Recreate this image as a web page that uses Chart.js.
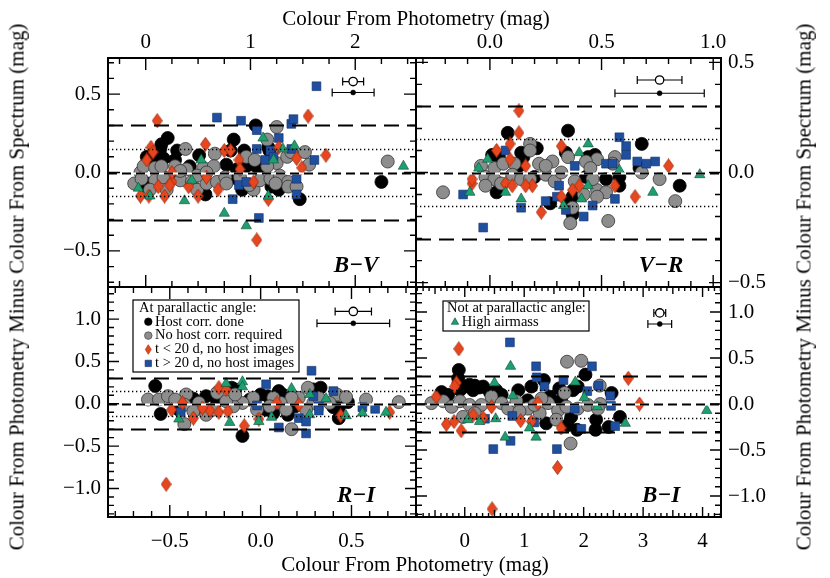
<!DOCTYPE html>
<html>
<head>
<meta charset="utf-8">
<script src="https://cdn.jsdelivr.net/npm/chart.js@4.4.1/dist/chart.umd.min.js"></script>
<style>
  body { margin: 0; background: #fff; }
  #wrap { position: relative; width: 830px; height: 578px; font-family: "Liberation Serif", "Times New Roman", serif; }
  #wrap canvas { position: absolute; left: 0; top: 0; }
  .ttl { position: absolute; font-size: 21px; line-height: 1; white-space: nowrap; color: #000; }
</style>
</head>
<body>
<div id="wrap">
  <canvas id="bv" width="830" height="578"></canvas>
  <canvas id="vr" width="830" height="578"></canvas>
  <canvas id="ri" width="830" height="578"></canvas>
  <canvas id="bi" width="830" height="578"></canvas>
  <div class="ttl" style="left:416px;top:18px;transform:translate(-50%,-50%)">Colour From Photometry (mag)</div>
  <div class="ttl" style="left:415px;top:564px;transform:translate(-50%,-50%)">Colour From Photometry (mag)</div>
  <div class="ttl" style="left:17px;top:287px;transform:translate(-50%,-50%) rotate(-90deg)">Colour From Photometry Minus Colour From Spectrum (mag)</div>
  <div class="ttl" style="left:804px;top:287px;transform:translate(-50%,-50%) rotate(-90deg)">Colour From Photometry Minus Colour From Spectrum (mag)</div>
</div>
<script>
// ---- B-V panel ----
const bvHost = [[0.21,0.22],[0.15,0.18],[0.14,0.15],[0.30,0.14],[0.51,0.11],[0.84,0.21],[0.81,0.14],[0.94,0.14],[1.05,0.30],[1.17,0.16],[1.18,0.14],[2.25,-0.06],[0.57,-0.14],[1.47,-0.17],[1.27,-0.07],[1.27,-0.11],[0.01,0.10],[0.07,0.09],[0.17,0.09],[0.28,0.08],[0.01,-0.07],[0.01,-0.09],[0.26,-0.03],[0.87,0.02],[0.87,-0.04],[1.03,0.05],[1.12,0.04],[0.77,0.05],[0.42,0.04],[0.92,-0.11],[1.20,-0.09],[1.08,0.02],[0.96,0.04]];
const bvNoHost = [[2.31,0.07],[1.16,0.21],[1.25,0.29],[0.38,0.15],[-0.11,-0.07],[-0.05,0.00],[-0.02,0.04],[0.09,0.03],[0.09,-0.05],[0.17,-0.03],[0.20,-0.11],[0.28,0.04],[0.33,-0.05],[0.39,0.02],[0.44,-0.06],[0.49,-0.11],[0.55,0.03],[0.58,-0.07],[0.66,0.12],[0.65,0.04],[0.68,-0.06],[0.76,-0.03],[0.77,-0.07],[0.96,0.10],[1.03,-0.11],[1.04,0.08],[1.09,-0.05],[1.19,-0.04],[1.25,0.06],[1.28,-0.02],[1.35,0.10],[1.36,-0.06],[1.36,-0.09],[1.44,-0.09],[1.52,0.13],[1.56,0.05],[1.39,0.13],[1.24,-0.07],[0.04,-0.11],[-0.04,-0.04],[0.15,0.04],[0.33,0.01],[0.49,-0.02],[0.58,0.00],[1.16,0.04],[0.99,-0.08],[0.90,-0.03]];
const bvEarly = [[0.11,0.33],[0.57,0.18],[0.05,0.16],[0.07,0.13],[0.75,0.14],[0.81,0.14],[0.89,0.08],[1.44,0.09],[1.72,0.11],[1.55,0.36],[1.27,0.16],[-0.05,-0.15],[0.03,-0.15],[0.18,-0.15],[1.17,-0.17],[1.06,-0.43],[0.25,-0.06],[0.23,-0.08],[0.12,-0.09],[1.03,-0.06],[0.50,-0.15],[0.58,-0.03],[0.41,-0.09],[1.49,0.03],[0.01,0.08],[0.25,0.00],[0.90,0.02],[0.69,-0.11]];
const bvLate = [[1.63,0.55],[0.68,0.35],[0.91,0.33],[1.06,0.27],[1.39,0.31],[1.41,0.34],[1.27,0.22],[1.61,0.08],[1.44,-0.04],[1.44,-0.14],[0.83,-0.17],[1.08,-0.29],[1.06,0.15],[1.19,0.14],[0.89,-0.08],[0.96,-0.06],[1.14,0.08],[1.39,0.15],[1.22,0.10]];
const bvAirmass = [[2.46,0.04],[0.75,-0.26],[0.37,-0.18],[1.42,0.17],[1.31,0.15],[1.12,0.22],[0.96,-0.34],[-0.07,-0.10],[0.04,-0.15],[1.17,-0.15],[0.44,-0.05],[0.53,0.08],[1.22,0.08]];
const bvErr = [[1.98,0.58,0.10],[1.98,0.51,0.20]];
const bvTicksX = [0, 1, 2];
const bvTicksY = [-0.5, 0, 0.5];

// ---- V-R panel ----
const vrHost = [[0.08,0.18],[0.35,0.19],[0.68,0.13],[0.01,0.08],[0.04,0.07],[0.14,0.09],[0.15,0.07],[0.21,0.11],[0.34,0.09],[0.47,0.08],[0.44,0.07],[0.67,0.02],[0.85,-0.06],[0.03,-0.09],[0.27,-0.14],[0.37,-0.11],[0.37,-0.19],[0.36,-0.13],[0.52,-0.03],[0.58,-0.06],[0.58,-0.02],[0.43,-0.02],[0.13,0.03],[0.20,-0.02]];
const vrNoHost = [[-0.21,-0.09],[0.18,0.13],[0.18,0.10],[0.35,0.07],[0.56,0.07],[0.55,0.04],[0.48,0.06],[0.43,0.05],[0.76,-0.03],[0.83,-0.13],[0.53,-0.22],[0.36,-0.23],[0.37,-0.16],[0.42,-0.10],[0.48,-0.08],[0.52,-0.09],[0.48,-0.11],[0.68,0.00],[-0.04,0.03],[-0.02,-0.02],[0.02,0.02],[0.02,-0.03],[0.06,0.04],[0.11,0.04],[0.10,-0.01],[0.14,-0.03],[0.18,-0.03],[0.22,0.04],[0.25,-0.01],[0.28,0.05],[0.29,-0.04],[0.32,0.00],[0.38,-0.04],[0.45,0.02],[0.46,-0.03],[0.25,0.03],[-0.02,-0.06],[0.05,-0.05]];
const vrEarly = [[0.13,0.28],[0.13,0.18],[0.09,0.13],[0.03,0.10],[0.32,0.12],[0.16,0.03],[0.19,-0.06],[0.23,-0.18],[0.32,-0.11],[0.40,-0.06],[0.80,0.03],[0.65,-0.11],[-0.08,-0.05],[-0.08,-0.03],[0.07,-0.05],[0.10,-0.06],[0.16,-0.06],[0.09,0.06],[0.37,-0.08],[0.56,-0.06]];
const vrLate = [[-0.03,-0.25],[0.07,0.10],[0.14,-0.16],[0.25,-0.13],[0.30,-0.11],[0.34,-0.17],[0.42,-0.20],[0.46,-0.15],[0.61,0.12],[0.61,0.08],[0.66,0.05],[0.70,0.04],[0.74,0.05],[0.52,0.04],[0.55,0.04],[-0.12,-0.10],[0.38,0.03],[0.31,-0.06],[0.56,-0.12],[0.58,0.16]];
const vrAirmass = [[-0.09,-0.09],[0.14,-0.12],[0.07,-0.09],[-0.01,0.06],[0.40,0.09],[0.44,0.13],[0.41,-0.12],[0.33,-0.15],[0.94,-0.01],[0.73,-0.09],[-0.05,0.02],[0.44,-0.06],[0.58,0.01]];
const vrErr = [[0.76,0.42,0.10],[0.76,0.36,0.20]];
const vrTicksX = [0, 0.5, 1];
const vrTicksY = [-0.5, 0, 0.5];

// ---- R-I panel ----
const riHost = [[-0.58,0.21],[-0.55,-0.12],[-0.16,0.19],[-0.14,0.17],[0.00,0.11],[0.10,0.15],[0.12,0.11],[0.33,0.19],[0.29,0.17],[0.48,0.02],[0.40,-0.04],[0.43,-0.17],[0.43,-0.05],[0.07,-0.11],[0.15,-0.13],[-0.10,-0.38],[-0.37,0.06],[-0.30,0.09],[-0.45,-0.07],[-0.35,-0.05],[-0.24,0.03],[-0.06,0.05],[0.03,-0.07],[0.19,-0.03],[0.04,0.09]];
const riNoHost = [[-0.62,0.05],[-0.56,0.05],[-0.51,0.09],[-0.42,-0.24],[-0.41,0.11],[-0.34,0.01],[-0.24,0.13],[0.58,0.05],[0.76,0.02],[0.42,0.11],[0.47,0.08],[0.17,-0.30],[0.26,0.19],[0.21,0.07],[0.17,0.07],[0.11,0.01],[0.07,0.07],[-0.04,0.07],[-0.02,-0.07],[-0.10,0.01],[-0.15,-0.03],[-0.19,0.03],[-0.30,-0.13],[-0.26,-0.07],[-0.42,-0.01],[-0.47,0.05],[-0.37,-0.09],[0.29,0.01],[0.32,0.07],[0.38,0.01],[0.25,-0.07],[0.14,-0.07],[0.05,-0.03],[-0.14,0.11]];
const riEarly = [[-0.52,-0.95],[-0.23,0.19],[-0.19,0.17],[-0.09,-0.26],[-0.01,-0.18],[-0.37,-0.17],[-0.49,-0.07],[-0.23,-0.10],[-0.18,-0.09],[-0.28,-0.08],[-0.32,-0.05],[0.44,-0.14],[0.71,-0.10],[-0.43,0.01],[0.09,0.01],[0.21,-0.01]];
const riLate = [[0.28,0.39],[0.03,0.23],[0.40,0.15],[0.32,-0.03],[0.32,-0.08],[0.21,-0.17],[0.25,-0.21],[0.25,-0.35],[0.56,-0.04],[0.63,-0.06],[0.10,-0.28],[-0.44,-0.10],[-0.02,-0.02],[0.29,0.09]];
const riAirmass = [[-0.19,0.24],[-0.10,0.26],[-0.10,0.20],[0.17,0.18],[0.27,0.11],[0.36,0.06],[0.56,-0.11],[0.69,-0.10],[0.47,-0.14],[0.06,-0.16],[-0.01,-0.21],[-0.17,-0.22],[-0.45,-0.18],[0.27,-0.13]];
const riErr = [[0.51,1.09,0.10],[0.51,0.95,0.20]];
const riTicksX = [-0.5, 0, 0.5];
const riTicksY = [-1, -0.5, 0, 0.5, 1];

// ---- B-I panel ----
const biHost = [[-0.10,0.37],[-0.11,0.28],[-0.08,0.15],[0.00,0.19],[0.08,0.21],[0.17,0.20],[0.25,0.18],[0.14,0.15],[0.31,0.19],[-0.28,0.10],[-0.39,0.13],[0.53,0.15],[0.90,0.15],[1.12,0.19],[1.33,0.26],[1.59,0.17],[1.82,0.15],[1.90,0.19],[2.47,0.12],[2.03,0.32],[1.06,0.04],[1.37,-0.21],[1.79,-0.14],[1.73,-0.23],[1.89,-0.28],[2.21,-0.17],[2.20,-0.28],[2.42,-0.25],[2.61,-0.14],[1.62,0.04],[1.43,0.08],[0.62,0.10],[0.42,0.13]];
const biNoHost = [[1.72,0.46],[1.96,0.47],[1.78,-0.43],[2.27,0.20],[2.28,0.00],[-0.56,0.01],[-0.36,0.03],[-0.22,-0.03],[-0.08,0.03],[-0.03,-0.14],[0.08,-0.01],[0.28,-0.01],[0.45,0.08],[0.62,0.01],[0.73,-0.05],[0.87,0.03],[1.06,-0.05],[1.26,-0.10],[1.40,0.01],[1.57,-0.07],[1.54,-0.17],[1.71,-0.03],[1.90,-0.05],[2.07,-0.01],[1.68,0.12],[1.29,0.06],[0.17,-0.10],[0.92,-0.08],[1.17,-0.01],[2.24,-0.05]];
const biEarly = [[-0.10,0.60],[-0.14,0.23],[-0.17,0.19],[-0.48,0.08],[-0.31,-0.22],[-0.18,-0.19],[-0.06,-0.29],[0.14,-0.12],[0.31,-0.15],[0.94,-0.18],[1.12,-0.19],[1.62,-0.26],[1.56,-0.69],[0.46,-1.14],[2.94,0.00],[2.75,0.28],[1.23,0.01],[0.45,-0.03]];
const biLate = [[0.76,0.67],[1.20,0.41],[2.14,0.41],[1.21,0.29],[1.66,0.26],[1.34,0.19],[2.06,0.14],[2.25,0.20],[2.45,0.09],[0.48,-0.49],[0.77,-0.40],[1.55,-0.49],[0.80,-0.13],[1.17,-0.20],[1.96,-0.27],[2.53,-0.24],[0.34,-0.16],[1.85,-0.05],[2.46,-0.02]];
const biAirmass = [[0.77,0.41],[0.50,0.23],[1.86,0.24],[0.81,0.09],[2.01,0.07],[0.05,-0.17],[0.25,-0.19],[0.52,-0.16],[1.09,-0.26],[1.20,-0.36],[0.68,-0.36],[4.07,-0.07],[2.70,-0.21],[2.23,-0.03]];
const biErr = [[3.28,0.99,0.10],[3.28,0.87,0.20]];
const biTicksX = [0, 1, 2, 3, 4];
const biTicksY = [-1, -0.5, 0, 0.5, 1];

// reference levels (mag)
const refLevels = [-0.3, -0.15, 0, 0.15, 0.3];

const SERIF = '"Liberation Serif", "Times New Roman", serif';
const fmt0 = v => (v < 0 ? '\u2212' : '') + Math.abs(v).toFixed(0);
const fmt1 = v => (v < 0 ? '\u2212' : '') + Math.abs(v).toFixed(1);

function makeDiamond(w, h, fill, stroke) {
  const c = document.createElement('canvas');
  c.width = w; c.height = h;
  const g = c.getContext('2d');
  g.beginPath();
  g.moveTo(w / 2, 0.5); g.lineTo(w - 0.5, h / 2); g.lineTo(w / 2, h - 0.5); g.lineTo(0.5, h / 2);
  g.closePath();
  g.fillStyle = fill; g.fill();
  g.strokeStyle = stroke; g.lineWidth = 0.8; g.stroke();
  return c;
}
const RED = '#e8461e', BLUE = '#1f4f9e', GREEN = '#1f9e70', GREY = '#8d8d8d';
const diamond = makeDiamond(11, 15, RED, '#9a2a0a');

const styles = {
  host:   { pointStyle: 'circle',   pointRadius: 6.5, backgroundColor: '#000', borderColor: '#000', borderWidth: 0.8 },
  noHost: { pointStyle: 'circle',   pointRadius: 6.5, backgroundColor: GREY,   borderColor: '#333', borderWidth: 0.8 },
  early:  { pointStyle: diamond,    pointRadius: 6,   backgroundColor: RED,    borderColor: '#9a2a0a', borderWidth: 0.6 },
  late:   { pointStyle: 'rect',     pointRadius: 6.2, backgroundColor: BLUE,   borderColor: '#102f66', borderWidth: 0.6 },
  air:    { pointStyle: 'triangle', pointRadius: 6,   backgroundColor: GREEN,  borderColor: '#0b4f36', borderWidth: 0.6 }
};

function legendMark(ctx, key, x, y) {
  const s = styles[key];
  ctx.fillStyle = s.backgroundColor; ctx.strokeStyle = s.borderColor; ctx.lineWidth = 0.6;
  ctx.beginPath();
  if (key === 'host' || key === 'noHost') ctx.arc(x, y, 3.8, 0, Math.PI * 2);
  else if (key === 'early') { ctx.moveTo(x, y - 4.8); ctx.lineTo(x + 3, y); ctx.lineTo(x, y + 4.8); ctx.lineTo(x - 3, y); ctx.closePath(); }
  else if (key === 'late') ctx.rect(x - 3.2, y - 3.2, 6.4, 6.4);
  else { ctx.moveTo(x, y - 4.2); ctx.lineTo(x + 3.7, y + 2.3); ctx.lineTo(x - 3.7, y + 2.3); ctx.closePath(); }
  ctx.fill(); ctx.stroke();
}

const decor = {
  id: 'decor',
  beforeDatasetsDraw(chart, args, o) {
    const ctx = chart.ctx, xs = chart.scales.x, ys = chart.scales.y;
    ctx.save();
    ctx.strokeStyle = '#000'; ctx.lineWidth = 1.2;
    o.err.forEach(b => {
      const y = ys.getPixelForValue(b[1]);
      const x0 = xs.getPixelForValue(b[0] - b[2]), x1 = xs.getPixelForValue(b[0] + b[2]);
      ctx.beginPath();
      ctx.moveTo(x0, y); ctx.lineTo(x1, y);
      ctx.moveTo(x0, y - 4); ctx.lineTo(x0, y + 4);
      ctx.moveTo(x1, y - 4); ctx.lineTo(x1, y + 4);
      ctx.stroke();
    });
    ctx.restore();
  },
  afterDatasetsDraw(chart, args, o) {
    const ctx = chart.ctx, a = chart.chartArea, xs = chart.scales.x, ys = chart.scales.y;
    // reference lines
    ctx.save();
    ctx.beginPath(); ctx.rect(a.left, a.top, a.right - a.left, a.bottom - a.top); ctx.clip();
    refLevels.forEach(v => {
      const y = Math.round(ys.getPixelForValue(v)) + 0.5;
      ctx.beginPath(); ctx.moveTo(a.left, y); ctx.lineTo(a.right, y);
      if (v === 0) {
        ctx.setLineDash([]); ctx.strokeStyle = '#fff'; ctx.lineWidth = 2; ctx.stroke();
        ctx.setLineDash([9, 5]); ctx.strokeStyle = '#000'; ctx.lineWidth = 2.2; ctx.stroke();
      } else if (Math.abs(v) > 0.2) {
        ctx.setLineDash([15, 8]); ctx.strokeStyle = '#000'; ctx.lineWidth = 2; ctx.stroke();
      } else {
        ctx.setLineDash([1.3, 2.7]); ctx.strokeStyle = '#000'; ctx.lineWidth = 1.4; ctx.stroke();
      }
    });
    ctx.restore();

    // frame and inward ticks
    ctx.save();
    ctx.strokeStyle = '#000';
    ctx.lineWidth = 1.4;
    const marks = (scale, step, majors, mid) => {
      const out = [];
      for (let i = Math.ceil(scale.min / step - 1e-6); i * step <= scale.max + 1e-6; i++) {
        const v = i * step;
        let kind = 0;
        if (mid && Math.abs(v / mid - Math.round(v / mid)) < 1e-3) kind = 1;
        if (majors.some(m => Math.abs(m - v) < step / 10)) kind = 2;
        out.push([scale.getPixelForValue(v), kind]);
      }
      return out;
    };
    ctx.beginPath();
    marks(xs, o.xMinor, o.xMajor, o.xMid).forEach(([p, k]) => {
      const len = o.xLen[k];
      ctx.moveTo(p, a.bottom); ctx.lineTo(p, a.bottom - len);
      ctx.moveTo(p, a.top); ctx.lineTo(p, a.top + len);
    });
    marks(ys, o.yMinor, o.yMajor, null).forEach(([p, k]) => {
      const len = o.yLen[k];
      ctx.moveTo(a.left, p); ctx.lineTo(a.left + len, p);
      ctx.moveTo(a.right, p); ctx.lineTo(a.right - len, p);
    });
    ctx.stroke();
    ctx.lineWidth = 2;
    ctx.strokeRect(a.left, a.top, a.right - a.left, a.bottom - a.top);

    // panel name
    ctx.fillStyle = '#000';
    ctx.font = 'italic bold 23px ' + SERIF;
    ctx.textAlign = 'center'; ctx.textBaseline = 'alphabetic';
    ctx.fillText(o.name, a.right - 60, a.bottom - 15);

    // legend box
    if (o.legend) {
      const L = o.legend, bx = a.left + L.x, by = a.top + L.y;
      ctx.fillStyle = '#fff'; ctx.fillRect(bx, by, L.w, L.h);
      ctx.lineWidth = 1.2; ctx.strokeRect(bx, by, L.w, L.h);
      ctx.fillStyle = '#000';
      ctx.font = '14.5px ' + SERIF;
      ctx.textAlign = 'left'; ctx.textBaseline = 'middle';
      ctx.fillText(L.title, bx + L.tx, by + L.ty);
      L.items.forEach((it, i) => {
        const cy = by + L.row0 + i * L.gap;
        legendMark(ctx, it[1], bx + L.mx, cy);
        ctx.fillStyle = '#000';
        ctx.fillText(it[0], bx + L.lx, cy);
      });
    }
    ctx.restore();
  }
};

function panel(id, d) {
  const ds = (pts, key) => Object.assign({ data: pts, clip: 0 }, styles[key]);
  const err = d.err;
  new Chart(document.getElementById(id), {
    type: 'scatter',
    data: {
      datasets: [
        { data: [[err[0][0], err[0][1]]], pointStyle: 'circle', pointRadius: 4.2, backgroundColor: '#fff', borderColor: '#000', borderWidth: 1.3 },
        { data: [[err[1][0], err[1][1]]], pointStyle: 'circle', pointRadius: 2.5, backgroundColor: '#000', borderColor: '#000', borderWidth: 0.5 },
        ds(d.air, 'air'),
        ds(d.early, 'early'),
        ds(d.late, 'late'),
        ds(d.noHost, 'noHost'),
        ds(d.host, 'host')
      ]
    },
    options: {
      responsive: false,
      animation: false,
      events: [],
      layout: { padding: d.pad },
      plugins: {
        legend: { display: false },
        tooltip: { enabled: false },
        decor: {
          err: d.err, name: d.name, legend: d.legend || null,
          xMinor: d.xMinor, xMajor: d.xTicks, xMid: d.xMid || null, xLen: d.xLen || [6, 9, 12],
          yMinor: d.yMinor, yMajor: d.yTicks, yLen: d.yLen || [6, 9, 12]
        }
      },
      scales: {
        x: {
          type: 'linear', position: d.xPos, min: d.xMin, max: d.xMax,
          grid: { display: false, drawTicks: false }, border: { display: false },
          afterBuildTicks: s => { s.ticks = d.xTicks.map(v => ({ value: v })); },
          afterFit: s => { s.height = d.xH; },
          ticks: { autoSkip: false, maxRotation: 0, color: '#000', font: { family: SERIF, size: 21 },
                   padding: d.xPos === 'top' ? 3 : 12, callback: d.xFmt }
        },
        y: {
          type: 'linear', position: d.yPos, min: d.yMin, max: d.yMax,
          grid: { display: false, drawTicks: false }, border: { display: false },
          afterBuildTicks: s => { s.ticks = d.yTicks.map(v => ({ value: v })); },
          afterFit: s => { s.width = d.yW; },
          ticks: { autoSkip: false, color: '#000', font: { family: SERIF, size: 21 }, padding: 7, callback: fmt1 }
        }
      }
    },
    plugins: [decor]
  });
}

panel('bv', {
  host: bvHost, noHost: bvNoHost, early: bvEarly, late: bvLate, air: bvAirmass, err: bvErr,
  xMin: -0.36, xMax: 2.58, yMin: -0.73, yMax: 0.73, xTicks: bvTicksX, yTicks: bvTicksY,
  xMinor: 0.25, yMinor: 0.1, xFmt: fmt0, xPos: 'top', yPos: 'left', xH: 58, yW: 108,
  pad: { left: 0, top: 0, right: 414, bottom: 291 }, name: 'B\u2212V'
});
panel('vr', {
  host: vrHost, noHost: vrNoHost, early: vrEarly, late: vrLate, air: vrAirmass, err: vrErr,
  xMin: -0.331, xMax: 1.035, yMin: -0.52, yMax: 0.52, xTicks: vrTicksX, yTicks: vrTicksY,
  xMinor: 0.1, yMinor: 0.1, xFmt: fmt1, xPos: 'top', yPos: 'right', xH: 58, yW: 109,
  pad: { left: 416, top: 0, right: 0, bottom: 291 }, name: 'V\u2212R'
});
panel('ri', {
  host: riHost, noHost: riNoHost, early: riEarly, late: riLate, air: riAirmass, err: riErr,
  xMin: -0.84, xMax: 0.855, yMin: -1.337, yMax: 1.379, xTicks: riTicksX, yTicks: riTicksY,
  xMinor: 0.1, yMinor: 0.1, xFmt: fmt1, xPos: 'bottom', yPos: 'left', xH: 61, yW: 108,
  yLen: [6, 9, 11],
  pad: { left: 0, top: 287, right: 414, bottom: 0 }, name: 'R\u2212I',
  legend: { x: 25, y: 13, w: 166, h: 72, tx: 6, ty: 8.5, mx: 15.3, lx: 22, row0: 21.7, gap: 13.9,
            title: 'At parallactic angle:',
            items: [['Host corr. done', 'host'], ['No host corr. required', 'noHost'],
                    ['t < 20 d, no host images', 'early'], ['t > 20 d, no host images', 'late']] }
});
panel('bi', {
  host: biHost, noHost: biNoHost, early: biEarly, late: biLate, air: biAirmass, err: biErr,
  xMin: -0.82, xMax: 4.31, yMin: -1.228, yMax: 1.272, xTicks: biTicksX, yTicks: biTicksY,
  xMinor: 0.1, xMid: 0.5, yMinor: 0.1, xFmt: fmt0, xPos: 'bottom', yPos: 'right', xH: 61, yW: 109,
  xLen: [4, 7, 10], yLen: [6, 9, 11],
  pad: { left: 416, top: 287, right: 0, bottom: 0 }, name: 'B\u2212I',
  legend: { x: 27, y: 14, w: 146, h: 30, tx: 4, ty: 7, mx: 12, lx: 18.7, row0: 21, gap: 13.9,
            title: 'Not at parallactic angle:',
            items: [['High airmass', 'air']] }
});
</script>
</body>
</html>
